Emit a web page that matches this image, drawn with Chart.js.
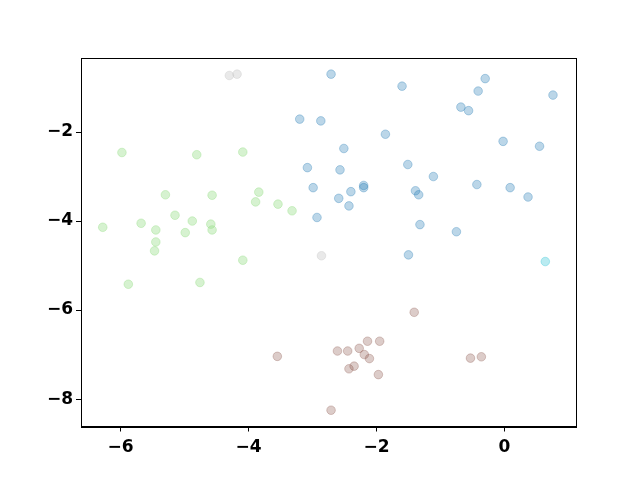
<!DOCTYPE html>
<html>
<head>
<meta charset="utf-8">
<script src="https://cdn.jsdelivr.net/npm/chart.js@4/dist/chart.umd.min.js"></script>
<style>
  html, body { margin: 0; padding: 0; background: #fff; }
  #scatter { display: block; }
</style>
</head>
<body>
<canvas id="scatter" width="640" height="480"></canvas>
<script>
// cluster points
const blueX = [-2.71, -1.60, -0.30, -0.41, 0.76, -0.68, -0.56, -3.20, -2.87, -1.86, -0.02, 0.55, -2.51, -3.08, -2.57, -1.51, -1.11, -2.99, -2.20, -2.20, -2.40, -1.39, -1.34, -0.43, 0.09, 0.37, -2.59, -2.43, -2.93, -1.32, -0.75, -1.50];
const blueY = [-0.70, -0.97, -0.80, -1.08, -1.17, -1.44, -1.52, -1.71, -1.75, -2.05, -2.21, -2.32, -2.37, -2.80, -2.85, -2.73, -3.00, -3.25, -3.20, -3.25, -3.34, -3.32, -3.41, -3.18, -3.25, -3.46, -3.49, -3.66, -3.92, -4.08, -4.24, -4.76];

const greenX = [-5.98, -4.81, -4.09, -5.30, -4.57, -3.84, -3.89, -3.54, -3.32, -6.28, -5.68, -5.45, -5.15, -4.88, -4.99, -4.59, -4.57, -5.45, -5.47, -4.09, -5.88, -4.76];
const greenY = [-2.46, -2.51, -2.45, -3.41, -3.42, -3.35, -3.57, -3.62, -3.77, -4.14, -4.05, -4.20, -3.87, -4.00, -4.26, -4.07, -4.20, -4.47, -4.67, -4.88, -5.42, -5.38];

const brownX = [-3.55, -1.41, -2.61, -2.45, -2.27, -2.14, -1.95, -2.19, -2.11, -2.35, -2.43, -1.97, -2.71, -0.53, -0.36];
const brownY = [-7.04, -6.05, -6.92, -6.92, -6.86, -6.70, -6.70, -7.00, -7.09, -7.26, -7.32, -7.45, -8.25, -7.08, -7.05];

const grayX = [-4.30, -4.18, -2.86];
const grayY = [-0.73, -0.70, -4.78];

const cyanX = [0.64];
const cyanY = [-4.91];

const xTicks = [-6, -4, -2, 0];
const yTicks = [-8, -6, -4, -2];

function toPoints(xs, ys) {
  return xs.map((x, i) => ({ x: x, y: ys[i] }));
}

function fmt(v) {
  return v < 0 ? '\u2212' + Math.abs(v) : String(v);
}

const groups = [
  { xs: blueX,  ys: blueY,  color: 'rgba(31, 119, 180, 0.3)' },
  { xs: greenX, ys: greenY, color: 'rgba(152, 223, 138, 0.4)' },
  { xs: brownX, ys: brownY, color: 'rgba(140, 86, 75, 0.3)' },
  { xs: grayX,  ys: grayY,  color: 'rgba(199, 199, 199, 0.4)' },
  { xs: cyanX,  ys: cyanY,  color: 'rgba(23, 190, 207, 0.3)' },
];

// matplotlib-like closed frame
const frame = {
  id: 'frame',
  afterDraw(chart) {
    const { ctx, chartArea: a } = chart;
    ctx.save();
    ctx.strokeStyle = '#000';
    ctx.lineWidth = 1;
    ctx.strokeRect(Math.round(a.left) + 0.5, Math.round(a.top) + 0.5,
      Math.round(a.right - a.left), Math.round(a.bottom - a.top));
    ctx.restore();
  }
};

const tickFont = { family: '"DejaVu Sans", sans-serif', size: 17, weight: 'bold' };

new Chart(document.getElementById('scatter').getContext('2d'), {
  type: 'scatter',
  data: {
    datasets: groups.map(g => ({
      data: toPoints(g.xs, g.ys),
      backgroundColor: g.color,
      borderColor: g.color,
      borderWidth: 1,
      pointRadius: 4.3,
      pointHoverRadius: 4.3,
    }))
  },
  options: {
    responsive: false,
    animation: false,
    events: [],
    layout: { padding: { left: 0, right: 64, top: 58, bottom: 0 } },
    plugins: { legend: { display: false }, tooltip: { enabled: false } },
    scales: {
      x: {
        type: 'linear',
        min: -6.62,
        max: 1.12,
        afterBuildTicks: s => { s.ticks = xTicks.map(v => ({ value: v })); },
        afterFit: s => { s.height = 53.5; },
        grid: { display: true, drawOnChartArea: false, drawTicks: true, tickLength: 5, color: '#000' },
        border: { display: true, color: '#000', width: 1 },
        ticks: { color: '#000', font: tickFont, padding: 6, maxRotation: 0, callback: v => fmt(v) },
      },
      y: {
        type: 'linear',
        min: -8.616,
        max: -0.337,
        afterBuildTicks: s => { s.ticks = yTicks.map(v => ({ value: v })); },
        afterFit: s => { s.width = 81; },
        grid: { display: true, drawOnChartArea: false, drawTicks: true, tickLength: 5, color: '#000' },
        border: { display: true, color: '#000', width: 1 },
        ticks: { color: '#000', font: tickFont, padding: 3, callback: v => fmt(v) },
      }
    }
  },
  plugins: [frame]
});
</script>
</body>
</html>
